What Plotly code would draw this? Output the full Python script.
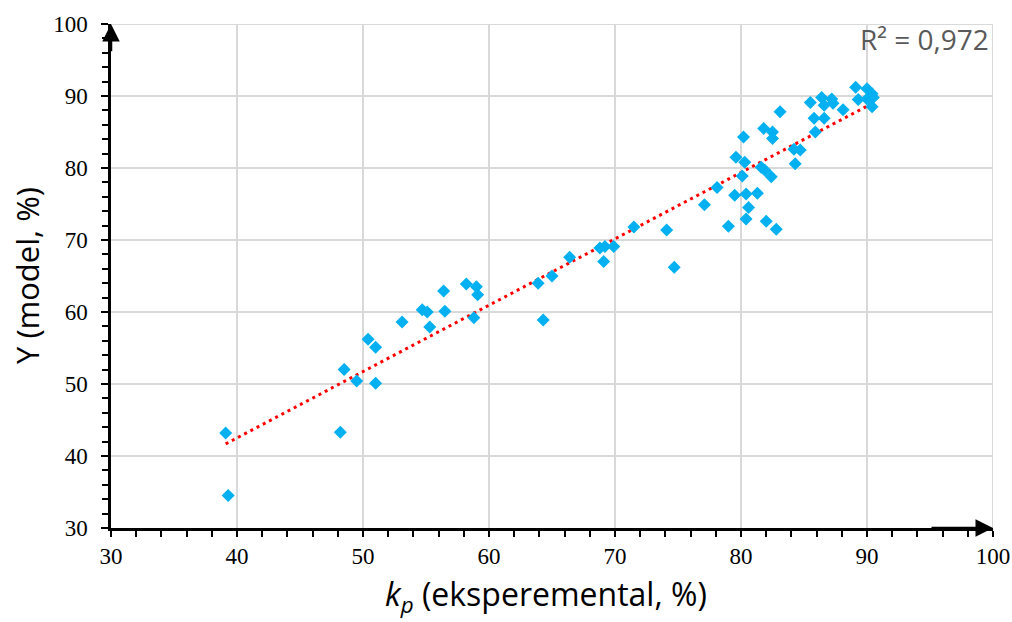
import numpy as np
import plotly.graph_objects as go

kp = [39.1, 39.3, 48.2, 48.5, 49.5, 51.0, 50.4, 51.0, 53.1, 54.7, 55.1, 55.3, 56.4, 56.5,
      58.2, 59.0, 59.1, 58.8, 63.9, 64.3, 65.0, 66.4, 68.8, 69.2, 69.1, 69.9, 71.5, 74.1,
      74.7, 77.1, 78.1, 79.0, 79.5, 79.6, 80.2, 80.1, 80.3, 80.4, 80.4, 80.6, 81.3, 81.6,
      81.8, 81.9, 82.0, 82.4, 82.5, 82.5, 82.8, 83.1, 84.2, 84.3, 84.7, 85.5, 85.8, 85.9,
      86.4, 86.6, 86.6, 87.2, 87.3, 88.1, 89.1, 89.3, 90.0, 90.0, 90.4, 90.5, 90.4]
ymod = [43.2, 34.5, 43.3, 52.0, 50.4, 50.1, 56.2, 55.1, 58.6, 60.3, 60.0, 57.9, 62.9, 60.1,
        63.9, 63.5, 62.4, 59.2, 64.0, 58.9, 65.0, 67.6, 68.9, 69.1, 67.0, 69.1, 71.8, 71.4,
        66.2, 74.9, 77.3, 71.9, 76.2, 81.5, 84.3, 78.9, 80.8, 76.4, 72.9, 74.5, 76.5, 80.1,
        85.5, 79.7, 72.6, 78.8, 84.1, 85.0, 71.5, 87.8, 82.6, 80.6, 82.5, 89.1, 86.9, 85.0,
        89.8, 88.7, 86.9, 89.6, 89.0, 88.1, 91.2, 89.5, 91.0, 89.6, 90.3, 89.8, 88.5]
r2_label = "R² = 0,972"
x_title = "<i>k</i><sub><i>p</i></sub> (eksperemental, %)"
y_title = "Y (model, %)"
x_ticks = [30, 40, 50, 60, 70, 80, 90, 100]
y_ticks = [30, 40, 50, 60, 70, 80, 90, 100]

slope, intercept = np.polyfit(kp, ymod, 1)
xt = np.array([min(kp), max(kp)])
yt = slope * xt + intercept

fig = go.Figure()
fig.add_trace(go.Scatter(x=xt, y=yt, mode="lines",
                         line=dict(color="#FF0000", width=3, dash="3px,4px"),
                         hoverinfo="skip", showlegend=False))
fig.add_trace(go.Scatter(x=kp, y=ymod, mode="markers",
                         marker=dict(symbol="diamond", size=10, color="#00B0F0",
                                     line=dict(width=0)),
                         showlegend=False))

tickfont = dict(family="Liberation Serif", size=23, color="#000000")
common = dict(range=[30, 100], showgrid=True, gridcolor="#D9D9D9", gridwidth=2,
              showline=True, linecolor="#000000", linewidth=2.5,
              ticks="outside", tickwidth=2, tickcolor="#000000",
              tickfont=tickfont, zeroline=False, automargin=False)
fig.update_xaxes(**common, tickvals=x_ticks, ticktext=[str(v) for v in x_ticks], ticklen=6,
                 minor=dict(dtick=2, ticks="outside", ticklen=6, tickwidth=2,
                            tickcolor="#000000", showgrid=False))
fig.update_yaxes(**common, tickvals=y_ticks, ticktext=[str(v) for v in y_ticks], ticklen=7,
                 ticklabelstandoff=9,
                 minor=dict(dtick=2, ticks="outside", ticklen=6, tickwidth=2,
                            tickcolor="#000000", showgrid=False))

# gray borders at top and right (gridlines at 100)
fig.add_shape(type="line", xref="x", yref="y", x0=30, x1=100, y0=100, y1=100,
              line=dict(color="#D9D9D9", width=2), layer="below")
fig.add_shape(type="line", xref="x", yref="y", x0=100, x1=100, y0=30, y1=100,
              line=dict(color="#D9D9D9", width=2), layer="below")

# axis arrows
fig.add_annotation(x=30, y=100, ax=30, ay=96, xref="x", yref="y", axref="x", ayref="y",
                   text="", showarrow=True, arrowhead=2, arrowsize=1.4, arrowwidth=2.5,
                   arrowcolor="#000000")
fig.add_annotation(x=100, y=30, ax=95, ay=30, xref="x", yref="y", axref="x", ayref="y",
                   text="", showarrow=True, arrowhead=2, arrowsize=1.4, arrowwidth=2.5,
                   arrowcolor="#000000")

# axis titles
fig.add_annotation(x=0, y=0.5, xref="paper", yref="paper", xshift=-84,
                   xanchor="center", yanchor="middle", textangle=-90,
                   text=y_title, showarrow=False,
                   font=dict(family="Open Sans", size=31, color="#000000"))
fig.add_annotation(x=0.493, y=0, xref="paper", yref="paper", yshift=-68,
                   xanchor="center", yanchor="middle",
                   text=x_title, showarrow=False,
                   font=dict(family="Open Sans", size=32, color="#000000"))

fig.add_annotation(x=0.998, y=0.970, xref="paper", yref="paper", xanchor="right", yanchor="middle",
                   text=r2_label, showarrow=False,
                   font=dict(family="Open Sans", size=28, color="#595959"))

fig.update_layout(width=1012, height=622, plot_bgcolor="#FFFFFF", paper_bgcolor="#FFFFFF",
                  margin=dict(l=111, r=19, t=24, b=94, autoexpand=False))
fig.write_html("out.html", config={"displayModeBar": False},
               post_script="document.body.style.margin='0px';document.body.style.overflow='hidden';")
